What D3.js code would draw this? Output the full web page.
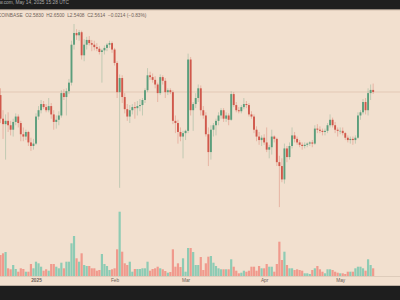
<!DOCTYPE html>
<html>
<head>
<meta charset="utf-8">
<script src="https://cdn.jsdelivr.net/npm/d3@7"></script>
<style>
body{margin:0;background:#f2e0cf;}
svg{display:block;font-family:"Liberation Sans",Arial,sans-serif;}
</style>
</head>
<body>
<svg id="chart"></svg>
<script>
// XRP / USD daily, Coinbase, 18 Dec 2024 - 14 May 2025
var firstDay = "2024-12-18"
var lastDay = "2025-05-14"

var opens = [
 2.53,2.30,2.25,2.28,2.24,2.20,2.27,2.32,2.26,2.16,2.14,2.18,2.09,2.06,
 2.08,2.32,2.38,2.44,2.41,2.38,2.42,2.34,2.27,2.29,2.33,2.55,2.51,2.57,2.66,3.10,3.25,3.22,3.26,2.97,3.10,3.16,3.12,3.10,3.07,3.05,3.01,3.03,3.06,3.10,3.12,
 3.04,2.88,2.56,2.71,2.51,2.39,2.32,2.38,2.41,2.40,2.42,2.43,2.48,2.58,2.74,2.72,2.69,2.64,2.55,2.72,2.68,2.56,2.58,2.56,2.28,2.26,2.18,2.14,
 2.17,2.19,2.92,2.38,2.44,2.50,2.60,2.38,2.33,2.16,2.01,2.20,2.24,2.28,2.33,2.38,2.30,2.33,2.29,2.54,2.43,2.38,2.37,2.41,2.44,2.43,2.34,2.32,2.20,2.14,2.11,
 2.13,2.09,2.03,2.05,2.14,2.12,1.93,1.90,1.80,2.04,1.97,2.06,2.15,2.12,2.09,2.07,2.06,2.07,2.08,2.09,2.08,2.21,2.20,2.19,2.18,2.19,2.24,2.29,2.24,2.20,
 2.19,2.19,2.17,2.13,2.11,2.12,2.11,2.13,2.33,2.36,2.46,2.38,2.55,2.583]
var highs = [
 2.60,2.38,2.34,2.36,2.28,2.30,2.35,2.34,2.28,2.22,2.20,2.19,2.13,2.12,
 2.35,2.42,2.48,2.47,2.44,2.50,2.45,2.38,2.33,2.37,2.58,2.59,2.60,2.70,3.15,3.37,3.30,3.29,3.28,3.17,3.20,3.21,3.16,3.15,3.12,3.08,3.05,3.09,3.12,3.15,3.14,
 3.06,2.90,2.75,2.74,2.55,2.44,2.43,2.44,2.46,2.47,2.49,2.50,2.60,2.82,2.78,2.76,2.73,2.66,2.75,2.74,2.71,2.60,2.60,2.58,2.33,2.29,2.22,2.19,
 2.20,2.99,2.95,2.46,2.55,2.64,2.63,2.42,2.36,2.22,2.24,2.26,2.30,2.36,2.40,2.40,2.36,2.35,2.57,2.56,2.46,2.41,2.43,2.50,2.47,2.45,2.37,2.34,2.23,2.18,2.15,
 2.16,2.22,2.07,2.20,2.15,2.13,1.98,1.96,2.08,2.06,2.09,2.22,2.18,2.14,2.11,2.09,2.09,2.09,2.10,2.11,2.24,2.25,2.23,2.21,2.21,2.26,2.34,2.31,2.27,2.22,
 2.22,2.22,2.18,2.15,2.14,2.14,2.15,2.36,2.38,2.49,2.50,2.60,2.64,2.65]
var lows = [
 2.26,2.12,1.95,2.18,2.15,2.14,2.24,2.22,2.10,2.10,2.11,2.06,2.02,2.03,
 2.07,2.29,2.35,2.39,2.36,2.36,2.30,2.20,2.21,2.24,2.31,2.48,2.33,2.54,2.63,3.04,3.16,3.15,2.92,2.90,3.04,3.09,3.02,3.03,3.02,2.98,2.66,2.98,3.02,3.06,3.00,
 2.85,2.50,1.74,2.45,2.35,2.28,2.26,2.34,2.30,2.33,2.37,2.33,2.45,2.56,2.69,2.66,2.60,2.46,2.53,2.64,2.50,2.53,2.54,2.25,2.17,2.08,2.10,1.96,
 2.11,2.17,2.33,2.19,2.40,2.46,2.33,2.30,2.14,1.90,1.95,2.14,2.15,2.24,2.30,2.27,2.27,2.24,2.28,2.41,2.36,2.35,2.35,2.39,2.40,2.32,2.30,2.17,2.10,2.07,2.06,
 2.07,2.01,1.96,1.99,2.09,1.90,1.61,1.78,1.77,1.93,1.95,2.04,2.09,2.07,2.05,2.03,2.04,2.05,2.06,2.05,2.07,2.17,2.17,2.15,2.15,2.17,2.22,2.22,2.17,2.14,
 2.16,2.15,2.11,2.09,2.08,2.07,2.08,2.12,2.29,2.34,2.34,2.33,2.48,2.5408]
var closes = [
 2.30,2.25,2.28,2.24,2.20,2.27,2.32,2.26,2.16,2.14,2.18,2.09,2.06,2.08,
 2.32,2.38,2.44,2.41,2.38,2.42,2.34,2.27,2.29,2.33,2.55,2.51,2.57,2.66,3.10,3.25,3.22,3.26,2.97,3.10,3.16,3.12,3.10,3.07,3.05,3.01,3.03,3.06,3.10,3.12,3.04,
 2.88,2.56,2.71,2.51,2.39,2.32,2.38,2.41,2.40,2.42,2.43,2.48,2.58,2.74,2.72,2.69,2.64,2.55,2.72,2.68,2.56,2.58,2.56,2.28,2.26,2.18,2.14,2.17,
 2.19,2.92,2.38,2.44,2.50,2.60,2.38,2.33,2.16,2.01,2.20,2.24,2.28,2.33,2.38,2.30,2.33,2.29,2.54,2.43,2.38,2.37,2.41,2.44,2.43,2.34,2.32,2.20,2.14,2.11,2.13,
 2.09,2.03,2.05,2.14,2.12,1.93,1.90,1.80,2.04,1.97,2.06,2.15,2.12,2.09,2.07,2.06,2.07,2.08,2.09,2.08,2.21,2.20,2.19,2.18,2.19,2.24,2.29,2.24,2.20,2.19,
 2.19,2.17,2.13,2.11,2.12,2.11,2.13,2.33,2.36,2.46,2.38,2.55,2.583,2.5614]
// volume in millions
var volumes = [
 420,454,480,154,134,220,140,86,154,140,86,86,240,154,
 286,254,186,106,134,106,240,240,186,154,266,154,286,286,654,800,354,286,454,220,200,200,154,154,106,120,440,240,200,120,134,
 154,534,1286,486,254,220,286,86,140,140,140,154,154,286,106,140,154,186,154,134,100,66,80,534,186,254,180,354,
 86,560,560,480,220,220,380,120,254,386,400,266,200,154,134,134,134,134,334,186,106,54,66,106,86,106,186,186,106,200,154,
 154,240,186,186,86,240,686,320,486,220,154,154,120,134,120,106,54,54,40,120,154,200,134,86,54,134,134,120,86,66,
 54,54,40,86,86,86,154,186,186,154,106,334,220,154]

var monthTicks = ["2025-01-01","2025-02-01","2025-03-01","2025-04-01","2025-05-01"]
var monthLabels = ["2025","Feb","Mar","Apr","May"]

var topLine = "TradingView.com, May 14, 2025 15:28 UTC"
var legendLine = "COINBASE  O2.5830  H2.6500  L2.5408  C2.5614  \u22120.0214 (\u22120.83%)"

var screen = {width:400, height:300}
var parseDay = d3.utcParse("%Y-%m-%d")

var days = d3.utcDay.range(parseDay(firstDay), d3.utcDay.offset(parseDay(lastDay), 1))
var candles = days.map(function(d,i){
  return {date:d, o:opens[i], h:highs[i], l:lows[i], c:closes[i], v:volumes[i]}
})

var svg = d3.select("#chart")
  .attr("width", screen.width)
  .attr("height", screen.height)

svg.append("rect").attr("width", screen.width).attr("height", screen.height).attr("fill", "#f2e0cf")

var xScale = d3.scaleUtc()
  .domain([parseDay("2025-01-01"), parseDay("2025-05-01")])
  .range([36, 340.2])

var yScale = d3.scaleLog()
  .domain([1.61, 3.40])
  .range([207.1, 21.8])

var vScale = d3.scaleLinear()
  .domain([0, d3.max(volumes)])
  .range([276, 211.7])

var up = function(d){ return d.c >= d.o }
var bodyW = 1.9

// last price line
svg.append("line")
  .attr("x1", 0).attr("x2", screen.width)
  .attr("y1", yScale(closes[closes.length-1])).attr("y2", yScale(closes[closes.length-1]))
  .attr("stroke", "#d8bba5").attr("stroke-width", 0.6)

// volume
svg.append("g").selectAll("rect")
  .data(candles)
  .enter()
  .append("rect")
  .attr("x", function(d){ return xScale(d.date) - 1.1 })
  .attr("width", 2.2)
  .attr("y", function(d){ return vScale(d.v) })
  .attr("height", function(d){ return 276 - vScale(d.v) })
  .attr("fill", function(d){ return up(d) ? "#8ecbb4" : "#f09a8d" })

// wicks
svg.append("g").selectAll("line")
  .data(candles)
  .enter()
  .append("line")
  .attr("x1", function(d){ return xScale(d.date) })
  .attr("x2", function(d){ return xScale(d.date) })
  .attr("y1", function(d){ return yScale(d.h) })
  .attr("y2", function(d){ return yScale(d.l) })
  .attr("stroke", function(d){ return up(d) ? "#5b9e7c" : "#d0584b" })
  .attr("stroke-opacity", 0.55)
  .attr("stroke-width", 0.6)

// bodies
svg.append("g").selectAll("rect")
  .data(candles)
  .enter()
  .append("rect")
  .attr("x", function(d){ return xScale(d.date) - bodyW/2 })
  .attr("width", bodyW)
  .attr("y", function(d){ return yScale(Math.max(d.o, d.c)) })
  .attr("height", function(d){ return Math.max(0.6, Math.abs(yScale(d.o) - yScale(d.c))) })
  .attr("fill", function(d){ return up(d) ? "#5b9e7c" : "#d0584b" })

// volume baseline
svg.append("line")
  .attr("x1", 0).attr("x2", screen.width)
  .attr("y1", 276.5).attr("y2", 276.5)
  .attr("stroke", "#d6c3b2").attr("stroke-width", 0.7)

// time axis
var xAxis = d3.axisBottom(xScale)
  .tickValues(monthTicks.map(parseDay))
  .tickFormat(function(d,i){ return monthLabels[i] })
  .tickSize(0)
  .tickPadding(0)

var axisG = svg.append("g")
  .attr("transform", "translate(0,278.6)")
  .call(xAxis)
axisG.select(".domain").remove()
axisG.selectAll("text")
  .attr("fill", "#6e6259")
  .style("font-size", "4.8px")
  .style("font-family", "'Liberation Sans', Arial, sans-serif")
  .style("font-weight", function(d,i){ return i == 0 ? "bold" : "normal" })

// dark bands
svg.append("rect").attr("x", 0).attr("y", 0).attr("width", screen.width).attr("height", 9.6).attr("fill", "#1e1e1e")
svg.append("rect").attr("x", 0).attr("y", 9.6).attr("width", screen.width).attr("height", 0.8).attr("fill", "#cdb9a7")
svg.append("rect").attr("x", 0).attr("y", 285).attr("width", screen.width).attr("height", 0.8).attr("fill", "#e2d2c2")
svg.append("rect").attr("x", 0).attr("y", 285.8).attr("width", screen.width).attr("height", 14.2).attr("fill", "#1e1e1e")

svg.append("text")
  .attr("x", 69)
  .attr("y", 3.6)
  .attr("text-anchor", "end")
  .attr("fill", "#a9a9a9")
  .style("font-size", "4.8px")
  .text(topLine)

svg.append("text")
  .attr("x", -2.2)
  .attr("y", 16.6)
  .attr("fill", "#6e6259")
  .style("font-size", "4.8px")
  .style("white-space", "pre")
  .text(legendLine)
</script>
</body>
</html>
